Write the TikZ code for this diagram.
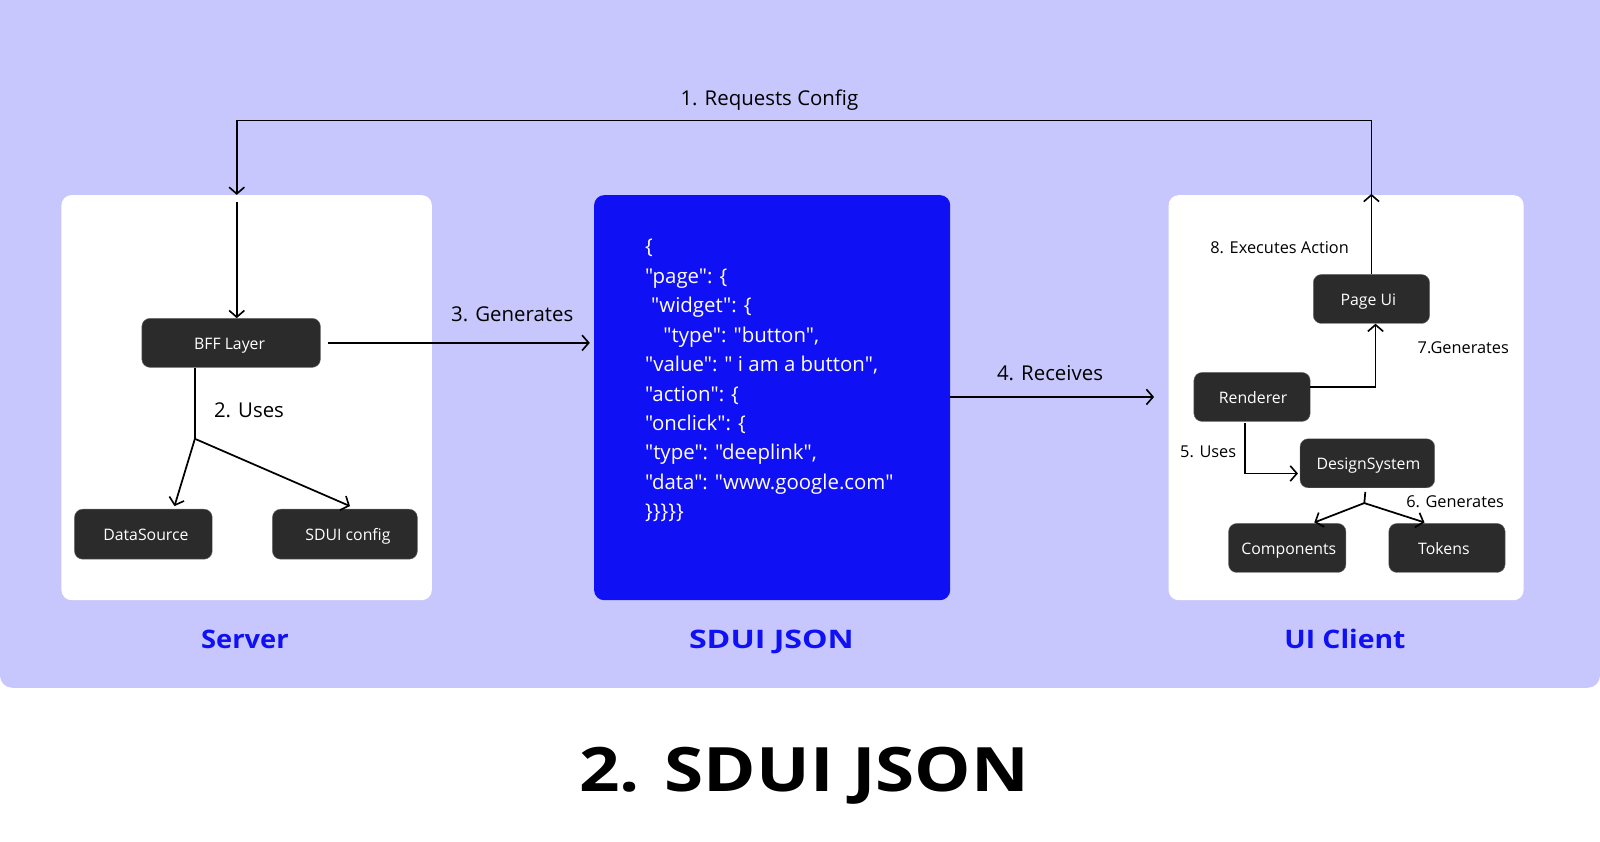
\documentclass[tikz,border=0pt]{standalone}
\usepackage{fontspec}
\usepackage{graphicx}
\setmainfont{Open Sans}
\newfontfamily\jsonfont{Open Sans}
\usetikzlibrary{arrows.meta,calc}
\definecolor{panelbg}{HTML}{C7C7FD}
\definecolor{jsonblue}{HTML}{1010F5}
\definecolor{boxdark}{HTML}{2B2B2B}
\tikzset{
  card/.style={draw=none,rounded corners=10pt,anchor=north west,inner sep=0pt},
  darkbox/.style={fill=boxdark,draw=boxdark!70!white,line width=.4pt,rounded corners=8pt,text=white,inner sep=0pt,text height=13pt,text depth=0pt,font=\fontsize{15.5}{18}\selectfont},
  edgelabel/.style={text=black,inner sep=0pt,font=\fontsize{20}{24}\selectfont},
  smalllabel/.style={text=black,inner sep=0pt,font=\fontsize{16}{18}\selectfont},
  sectitle/.style={text=jsonblue,inner sep=0pt,anchor=base,font=\fontsize{25}{30}\selectfont\bfseries},
  conn/.style={draw=black,line width=1.7pt},
  arr/.style={conn,-{Straight Barb[length=6.5pt,width=15pt,line width=1.6pt]}},
}
\begin{document}
\begin{tikzpicture}[x=1pt,y=-1pt]
\useasboundingbox (0,0) rectangle (1568,825.14);
\fill[white] (0,0) rectangle (1568,825.14);
\begin{scope}
\clip (0,0) rectangle (1568,825.14);
\fill[panelbg,rounded corners=12pt] (0,-30) rectangle (1568,674);
\end{scope}
% cards
\node[card,fill=white,minimum width=363pt,minimum height=397pt] (server) at (60,191) {};
\node[card,fill=jsonblue,minimum width=349pt,minimum height=397pt] (json) at (582,191) {};
\node[card,fill=white,minimum width=348pt,minimum height=397pt] (client) at (1145,191) {};
% boxes
\node[darkbox,minimum width=175pt,minimum height=48pt] (bff) at (226.5,336) {\hspace*{-3pt}BFF Layer};
\node[darkbox,minimum width=135pt,minimum height=49pt] (datasource) at (140.5,523.5) {\hspace*{5pt}DataSource};
\node[darkbox,minimum width=142pt,minimum height=49pt] (sdui) at (338,523.5) {\hspace*{6pt}SDUI config};
\node[darkbox,minimum width=114pt,minimum height=48pt] (page) at (1344,293) {\hspace*{-6pt}Page Ui};
\node[darkbox,minimum width=114pt,minimum height=48pt] (renderer) at (1227,389) {\hspace*{2pt}Renderer};
\node[darkbox,minimum width=132pt,minimum height=48pt] (design) at (1340,454) {\hspace*{2pt}DesignSystem};
\node[darkbox,minimum width=115pt,minimum height=48pt] (components) at (1261.5,537) {\hspace*{3pt}Components};
\node[darkbox,minimum width=114pt,minimum height=48pt] (tokens) at (1418,537) {\hspace*{-6pt}Tokens};
% json text
\node[anchor=north west,text=white,inner sep=0pt,align=left,font=\jsonfont\fontsize{20}{28.9}\selectfont] (code) at (632,234) {%
\{\\
"page": \{\\
\hspace*{6pt}"widget": \{\\
\hspace*{18pt}"type": "button",\\
"value": " i am a button",\\
"action": \{\\
"onclick": \{\\
"type": "deeplink",\\
"data": "www.google.com"\\
\}\}\}\}\}};
% labels
\node[edgelabel] (l1) at (754,98) {1. Requests Config};
\node[edgelabel] (l2) at (244,402) {2. Uses};
\node[edgelabel] (l3) at (502,308) {3. Generates};
\node[edgelabel] (l4) at (1029,366) {4. Receives};
\node[smalllabel] (l5) at (1184,443) {5. Uses};
\node[smalllabel] (l6) at (1426,492) {6. Generates};
\node[smalllabel] (l7) at (1434,341) {7.Generates};
\node[smalllabel] (l8) at (1254,243) {8. Executes Action};
\node[sectitle] (t1) at (240,636) {\scalebox{1.07}[1]{Server}};
\node[sectitle] (t2) at (756,636) {\scalebox{1.26}[1]{SDUI JSON}};
\node[sectitle] (t3) at (1318,636) {\scalebox{1.11}[1]{UI Client}};
\node[text=black,inner sep=0pt,anchor=base,font=\fontsize{60}{66}\selectfont\bfseries] (title) at (788,776) {\scalebox{1.16}[1]{2. SDUI JSON}};
% free ends
\coordinate (topR) at (1344,190);
\coordinate (cornerR) at (1344,118);
\coordinate (cornerL) at (232,118);
\coordinate (inEnd) at (232,191);
\coordinate (inStart) at (232,198);
\coordinate (forkL) at (191,430);
\coordinate (dsEnd) at (171,496);
\coordinate (sduiEnd) at (343,496);
\coordinate (bffOut) at (321,336);
\coordinate (jsonIn) at (578,336);
\coordinate (jsonOutEnd) at (1131,389);
\coordinate (forkR) at (1337,493);
\coordinate (dsTop) at (1338,482);
\coordinate (compEnd) at (1288,512);
\coordinate (tokEnd) at (1396,512);
\coordinate (rendBend) at (1348,379);
\coordinate (rendStart) at (1220,415);
\coordinate (rendDown) at (1220,464);
\coordinate (designEnd) at (1272,464);
% connectors
\draw[arr] (page.north) -- (topR);
\draw[arr] (topR) -- (cornerR) -- (cornerL) -- (inEnd);
\draw[arr] (inStart) -- (inStart |- bff.north);
\draw[arr] (bffOut) -- (jsonIn);
\draw[conn] (bff.south -| forkL) -- (forkL);
\draw[arr] (forkL) -- (dsEnd);
\draw[arr] (forkL) -- (sduiEnd);
\draw[arr] (json.east |- jsonOutEnd) -- (jsonOutEnd);
\draw[arr] (renderer.east |- rendBend) -- (rendBend) -- (rendBend |- page.south);
\draw[arr] (rendStart) -- (rendDown) -- (designEnd);
\draw[conn] (dsTop) -- (forkR);
\draw[arr] (forkR) -- (compEnd);
\draw[arr] (forkR) -- (tokEnd);
\end{tikzpicture}
\end{document}
